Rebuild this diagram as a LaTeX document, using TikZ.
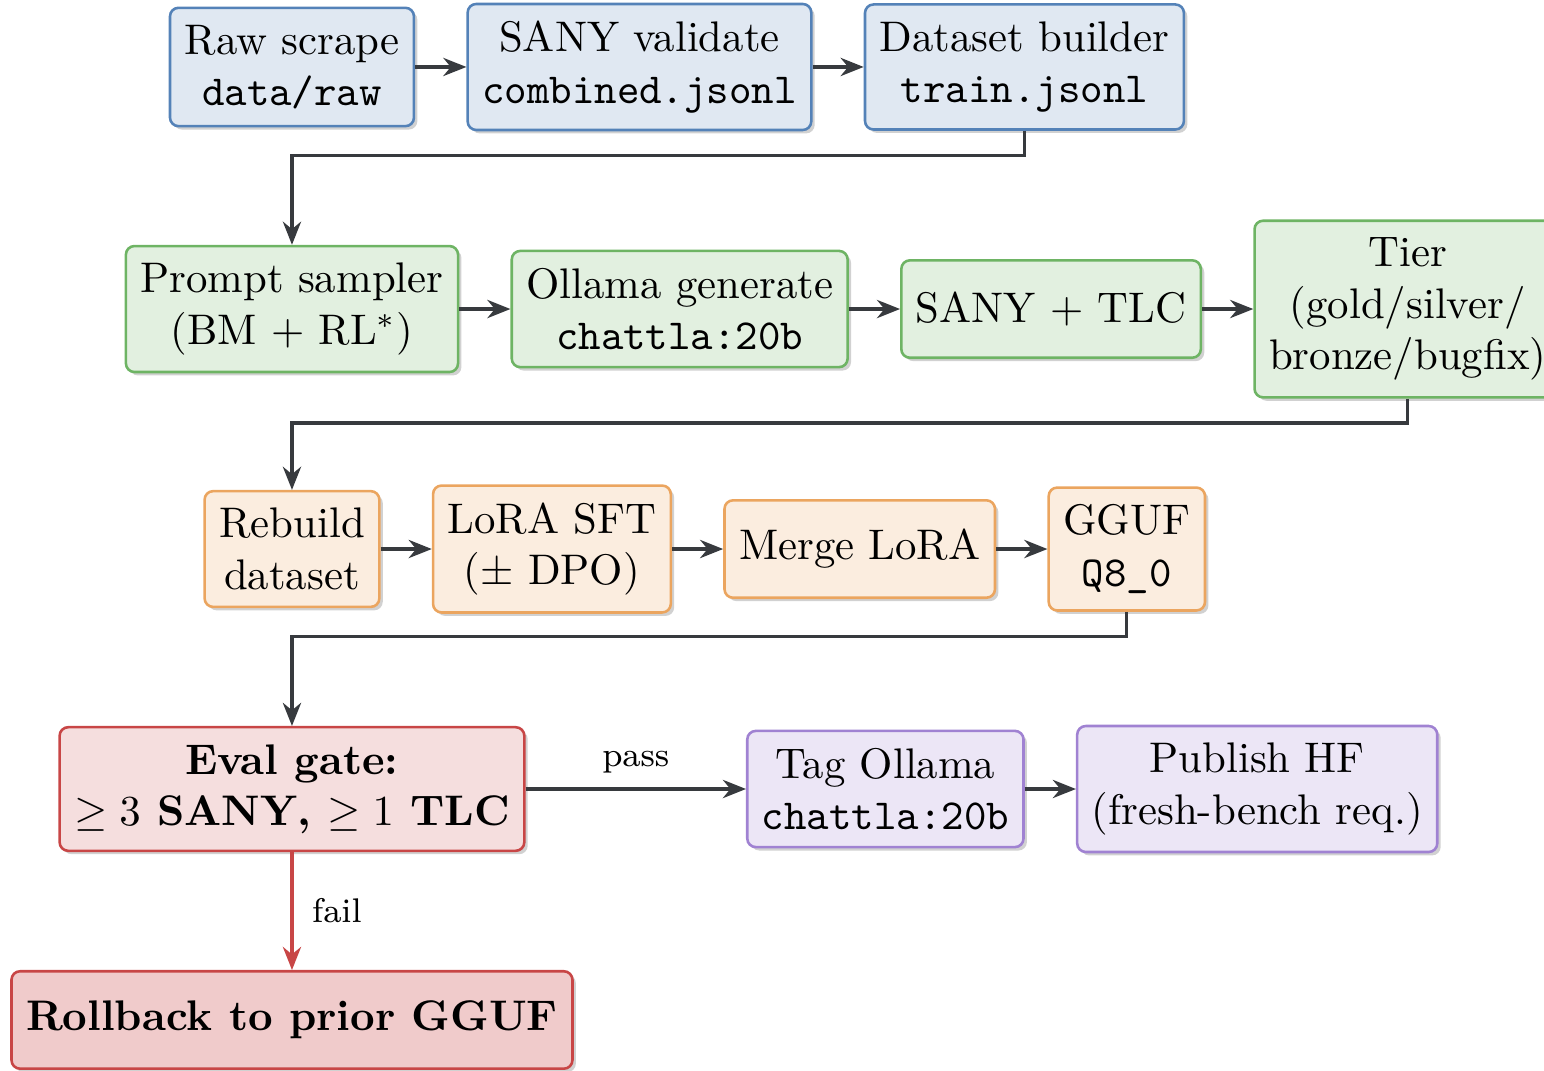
\documentclass[tikz,border=0pt]{standalone}
\usepackage{amsmath,amssymb}
\usepackage{xcolor}
\usepackage{tikz}
\usetikzlibrary{arrows.meta,positioning,shadows}
\definecolor{pipeblue}   {RGB}{84,130,184}
\definecolor{pipegreen}  {RGB}{110,180,100}
\definecolor{pipeorange} {RGB}{235,165,95}
\definecolor{pipered}    {RGB}{200,70,70}
\definecolor{pipepurple} {RGB}{160,130,210}
\definecolor{pipegray}   {RGB}{55,58,62}

\begin{document}
\begin{tikzpicture}[
  stage/.style={draw,rounded corners=2pt,line width=0.6pt,align=center,
                inner xsep=3.4pt,inner ysep=4pt,minimum height=0.8cm,
                drop shadow={shadow xshift=0.8pt,shadow yshift=-0.8pt,
                             fill=black!45,opacity=0.4}},
  datastage/.style={stage,draw=pipeblue,fill=pipeblue!18},
  genstage/.style={stage,draw=pipegreen,fill=pipegreen!20},
  trainstage/.style={stage,draw=pipeorange,fill=pipeorange!20},
  gatestage/.style={stage,draw=pipered,fill=pipered!18,font=\bfseries},
  failstage/.style={stage,draw=pipered,fill=pipered!28,font=\bfseries},
  pubstage/.style={stage,draw=pipepurple,fill=pipepurple!20},
  flow/.style={draw=pipegray,line width=0.75pt,
               -{Stealth[length=1.9mm,width=1.5mm]}},
  lbl/.style={font=\footnotesize},
]
\useasboundingbox (0,0) rectangle (12.681,-8.788);

%% Row 1: data
\node[datastage] (scrape) at (2.398,-0.550) {Raw scrape\\\texttt{data/raw}};
\node[datastage,right=0.42cm of scrape] (validate)
  {SANY validate\\\texttt{combined.jsonl}};
\node[datastage,right=0.42cm of validate] (builder)
  {Dataset builder\\\texttt{train.jsonl}};

%% Row 2: generation
\node[genstage] (sampler) at (2.398,-2.538) {Prompt sampler\\(BM $+$ RL$^{*}$)};
\node[genstage,right=0.42cm of sampler] (generate)
  {Ollama generate\\\texttt{chattla:20b}};
\node[genstage,right=0.42cm of generate] (check) {SANY $+$ TLC};
\node[genstage,right=0.42cm of check] (tier)
  {Tier\\(gold/silver/\\bronze/bugfix)};

%% Row 3: training
\node[trainstage] (rebuild) at (2.398,-4.509) {Rebuild\\dataset};
\node[trainstage,right=0.42cm of rebuild] (sft) {LoRA SFT\\($\pm$ DPO)};
\node[trainstage,right=0.42cm of sft] (merge) {Merge LoRA};
\node[trainstage,right=0.42cm of merge] (gguf) {GGUF\\\texttt{Q8\_0}};

%% Row 4: gate and release
\node[gatestage] (gate) at (2.398,-6.480)
  {Eval gate:\\$\geq 3$ SANY, $\geq 1$ TLC};
\node[pubstage,right=1.81cm of gate] (tag) {Tag Ollama\\\texttt{chattla:20b}};
\node[pubstage,right=0.42cm of tag] (publish)
  {Publish HF\\(fresh-bench req.)};
\node[failstage] (rollback) at (2.398,-8.377) {Rollback to prior GGUF};

%% Connectors
\draw[flow] (scrape) -- (validate);
\draw[flow] (validate) -- (builder);
\draw[flow] (builder.south) -- ++(0,-0.2) -| (sampler.north);
\draw[flow] (sampler) -- (generate);
\draw[flow] (generate) -- (check);
\draw[flow] (check) -- (tier);
\draw[flow] (tier.south) -- ++(0,-0.2) -| (rebuild.north);
\draw[flow] (rebuild) -- (sft);
\draw[flow] (sft) -- (merge);
\draw[flow] (merge) -- (gguf);
\draw[flow] (gguf.south) -- ++(0,-0.2) -| (gate.north);
\draw[flow] (gate) -- node[lbl,above=0pt] {pass} (tag);
\draw[flow] (tag) -- (publish);
\draw[flow,draw=pipered] (gate) -- node[lbl,right=1pt] {fail} (rollback);

\end{tikzpicture}
\end{document}
